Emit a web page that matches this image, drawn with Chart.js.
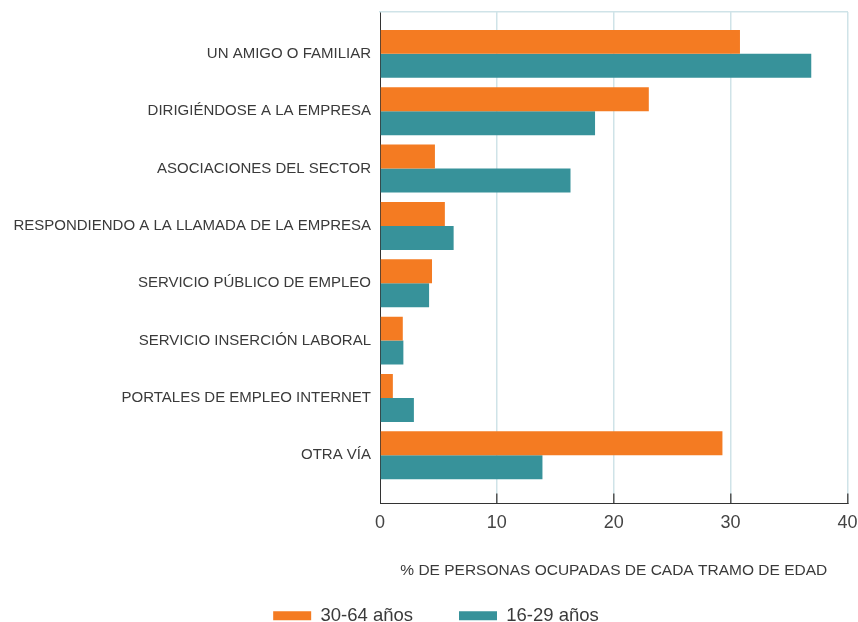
<!DOCTYPE html>
<html>
<head>
<meta charset="utf-8">
<script src="https://cdn.jsdelivr.net/npm/chart.js@4/dist/chart.umd.min.js"></script>
<style>
  html, body { margin: 0; padding: 0; background: #fff; }
</style>
</head>
<body>
<canvas id="viasChart" width="858" height="622"></canvas>
<script>
var categorias = [
    'UN AMIGO O FAMILIAR',
    'DIRIGIÉNDOSE A LA EMPRESA',
    'ASOCIACIONES DEL SECTOR',
    'RESPONDIENDO A LA LLAMADA DE LA EMPRESA',
    'SERVICIO PÚBLICO DE EMPLEO',
    'SERVICIO INSERCIÓN LABORAL',
    'PORTALES DE EMPLEO INTERNET',
    'OTRA VÍA'
];
var mayores = [30.8, 23.0, 4.7, 5.55, 4.45, 1.95, 1.1, 29.3];   // 30-64 años
var jovenes = [36.9, 18.4, 16.3, 6.3, 4.2, 2.0, 2.9, 13.9];     // 16-29 años
var ticksX = [0, 10, 20, 30, 40];
var series = ['30-64 años', '16-29 años'];

var naranja = '#f47b22';
var verde = '#37929a';
var rejilla = '#cfe3e8';

Chart.defaults.font.family = '"Liberation Sans", Arial, sans-serif';
Chart.defaults.color = '#3a3a3a';

// y lineal (índice de categoría) para poder dejar aire arriba y abajo
function puntos(valores) {
    return valores.map(function (v, i) { return { x: v, y: i }; });
}

// la leyenda va algo a la derecha del centro del lienzo
var moverLeyenda = {
    id: 'moverLeyenda',
    afterLayout: function (chart) {
        chart.legend.left += 7;
        chart.legend.right += 7;
    }
};

var ctx = document.getElementById('viasChart');
new Chart(ctx, {
    type: 'bar',
    data: {
        datasets: [
            { label: series[0], data: puntos(mayores), backgroundColor: naranja },
            { label: series[1], data: puntos(jovenes), backgroundColor: verde }
        ]
    },
    plugins: [moverLeyenda],
    options: {
        responsive: false,
        animation: false,
        indexAxis: 'y',
        categoryPercentage: 0.836,
        barPercentage: 1.0,
        layout: { padding: { top: 12, right: 10, left: 10, bottom: -13 } },
        plugins: {
            tooltip: { enabled: false },
            legend: {
                position: 'bottom',
                labels: {
                    boxWidth: 38,
                    boxHeight: 9,
                    padding: 46,
                    color: '#3a3a3a',
                    font: { size: 18.5 }
                }
            }
        },
        scales: {
            y: {
                type: 'linear',
                reverse: true,
                offset: false,
                min: -0.73,
                max: 7.84,
                z: 1,
                afterBuildTicks: function (scale) {
                    scale.ticks = categorias.map(function (c, i) { return { value: i }; });
                },
                afterFit: function (scale) { scale.width = 370; },
                ticks: {
                    padding: 0,
                    color: '#3a3a3a',
                    font: { size: 15 },
                    callback: function (v) { return categorias[v]; }
                },
                // sin rejilla horizontal; tickLength solo separa las etiquetas del eje
                grid: { display: false, drawTicks: true, tickLength: 9 },
                border: { color: '#333', width: 1 }
            },
            x: {
                type: 'linear',
                min: ticksX[0],
                max: ticksX[ticksX.length - 1],
                afterBuildTicks: function (scale) {
                    scale.ticks = ticksX.map(function (v) { return { value: v }; });
                },
                ticks: {
                    padding: 0.5,
                    color: '#444',
                    font: { size: 18, lineHeight: 3.2 }
                },
                grid: {
                    color: function (c) { return c.tick && c.tick.value === 0 ? 'rgba(0,0,0,0)' : rejilla; },
                    tickColor: function (c) { return c.tick && c.tick.value === 0 ? 'rgba(0,0,0,0)' : '#555'; },
                    tickLength: -10,
                    lineWidth: 1.5
                },
                border: { color: '#333', width: 1 },
                title: {
                    display: true,
                    text: '% DE PERSONAS OCUPADAS DE CADA TRAMO DE EDAD',
                    color: '#3a3a3a',
                    font: { size: 15.5 },
                    padding: { top: 9.6, bottom: -19.8 }
                }
            },
            xTop: {
                type: 'linear',
                position: 'top',
                min: 0,
                max: 40,
                ticks: { display: false },
                grid: { display: false, drawTicks: false },
                border: { color: rejilla, width: 1.5 }
            }
        }
    }
});
</script>
</body>
</html>
